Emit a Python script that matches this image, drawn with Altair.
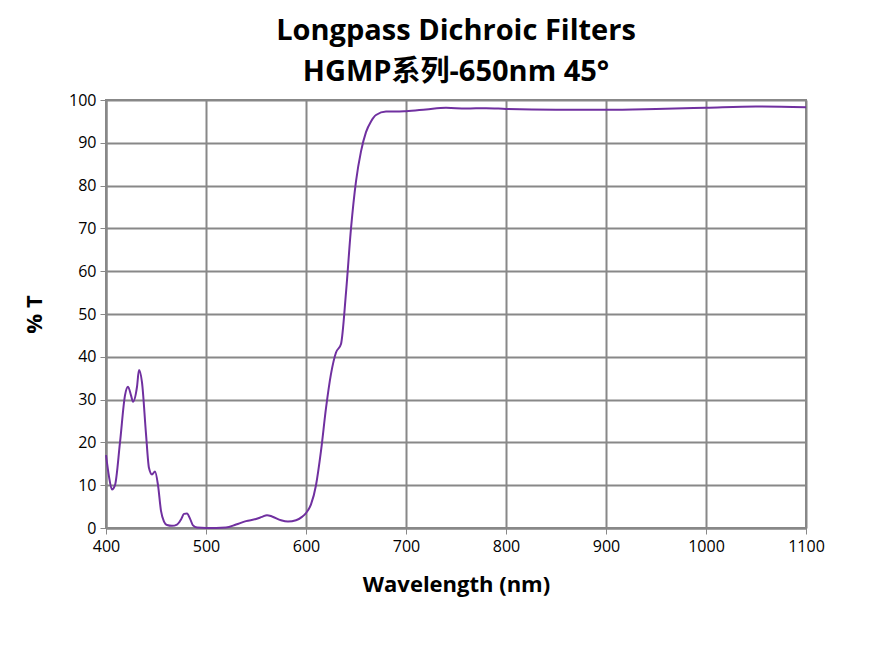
import pandas as pd
import altair as alt

wavelength = [400, 403, 406, 409, 414, 419, 422, 425, 427, 431, 433, 436, 440, 443, 446, 449, 452, 455,
              458, 461, 466, 471, 475, 478, 481, 484, 487, 491, 500, 510, 520, 530, 540, 550, 556,
              561, 566, 575, 582, 590, 596, 600, 605, 610, 615, 620, 625, 630, 635, 640, 645,
              650, 655, 660, 665, 670, 680, 690, 700, 720, 740, 760, 780, 800, 850, 900, 950,
              1000, 1050, 1100]
transmission = [17, 12, 9, 10, 20, 31, 33, 31, 29.5, 33, 36.9, 34, 22, 14, 12.5, 13.2, 10, 4,
                1.5, 0.7, 0.5, 0.8, 2, 3.3, 3.4, 2.2, 0.6, 0.1, 0, 0, 0.1, 0.8, 1.6, 2.1, 2.6,
                3, 2.7, 1.8, 1.5, 1.8, 2.6, 3.5, 5.5, 10, 18, 28, 36, 41, 43, 55, 70,
                81, 88, 92.5, 95, 96.5, 97.3, 97.3, 97.4, 97.8, 98.2, 98, 98.1, 97.9, 97.7, 97.7, 97.9,
                98.2, 98.5, 98.3]
title_lines = ["Longpass Dichroic Filters", "HGMP系列-650nm 45°"]

df = pd.DataFrame({"Wavelength": wavelength, "T": transmission})
font = "Open Sans, Noto Sans CJK SC"

line = alt.Chart(df).mark_line(color="#7030A0", strokeWidth=2, interpolate="monotone").encode(
    x=alt.X("Wavelength:Q", scale=alt.Scale(domain=[400, 1100], nice=False),
            axis=alt.Axis(title="Wavelength (nm)", values=list(range(400, 1101, 100)),
                          format="d", labelFlush=False)),
    y=alt.Y("T:Q", scale=alt.Scale(domain=[0, 100], nice=False),
            axis=alt.Axis(title="% T", values=list(range(0, 101, 10)))),
)

one = pd.DataFrame({"k": [0]})
border = alt.Chart(one).mark_rect(fill="white", fillOpacity=0, stroke="#888888",
                                  strokeWidth=1.5, clip=False).encode(
    x=alt.value(-105), x2=alt.value(780), y=alt.value(-99), y2=alt.value(549)
)

titles = [
    alt.Chart(one).mark_text(text=t, font=font, fontSize=29, fontWeight="bold", color="black",
                             align="center", baseline="middle").encode(
        x=alt.value(350), y=alt.value(yy))
    for t, yy in zip(title_lines, [-69, -28])
]

chart = alt.layer(border, line, *titles).properties(
    width=700, height=428,
    padding={"left": 98, "top": 92, "right": 74, "bottom": 116},
    autosize=alt.AutoSizeParams(type="none"),
).configure_axis(
    gridColor="#888888", gridWidth=2, domainColor="#888888", domainWidth=2, tickColor="#888888",
    tickSize=6, labelFont=font, labelFontSize=16, labelColor="black", labelPadding=4,
    titleFont=font, titleFontSize=22, titleFontWeight="bold", titleColor="black",
).configure_axisX(titlePadding=20).configure_axisY(titlePadding=22).configure_view(
    stroke="#888888", strokeWidth=2
)

chart.save("out.html", embed_options={"renderer": "svg", "actions": False})
